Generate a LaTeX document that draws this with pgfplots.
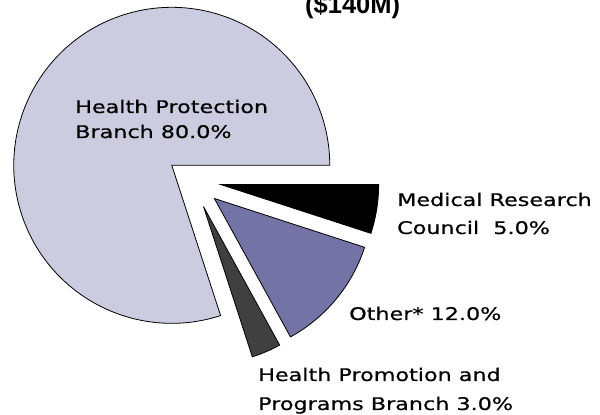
\documentclass[border=0pt]{standalone}
\usepackage{fontspec}
\setmainfont{DejaVu Sans}
\newfontfamily\lblfont{DejaVu Sans}[FakeBold=0.5]
\newfontfamily\titlefont{Liberation Sans}
\usepackage{graphicx}
\usepackage{pgfplots}
\usepackage{pgfplotstable}
\pgfplotsset{compat=1.18}
\definecolor{hpb}{RGB}{204,204,224}
\definecolor{other}{RGB}{115,115,166}
\definecolor{hppb}{RGB}{64,64,64}
\definecolor{mrc}{RGB}{0,0,0}

% slices clockwise from 3 o'clock; explode = offset of the slice (px)
\pgfplotstableread[col sep=comma]{
label,value,explode,fill
Medical Research Council,5,29,mrc
Other,12,29,other
Health Promotion and Programs Branch,3,29,hppb
Health Protection Branch,80,25,hpb
}\piedata

\def\pcx{192}\def\pcy{235}\def\prad{158}
\newcommand{\lbl}[1]{\lblfont\fontsize{17.4}{20}\selectfont\scalebox{1.28}[1]{#1}}

\begin{document}
\begin{tikzpicture}
\begin{axis}[
  at={(0,0)}, anchor=south west,
  x=1pt, y=1pt,
  xmin=0, xmax=600, ymin=0, ymax=415,
  hide axis, clip=false,
]
\pgfplotsextra{
  \pgfplotstablegetrowsof{\piedata}
  \pgfmathtruncatemacro\nrows{\pgfplotsretval-1}
  \xdef\curang{0}
  \foreach \i in {0,...,\nrows}{
    \pgfplotstablegetelem{\i}{value}\of\piedata \let\val\pgfplotsretval
    \pgfplotstablegetelem{\i}{explode}\of\piedata \let\ex\pgfplotsretval
    \pgfplotstablegetelem{\i}{fill}\of\piedata \let\col\pgfplotsretval
    \pgfmathsetmacro\aend{\curang-3.6*\val}
    \pgfmathsetmacro\amid{(\curang+\aend)/2}
    \pgfmathsetmacro\cx{\pcx+\ex*cos(\amid)}
    \pgfmathsetmacro\cy{\pcy+\ex*sin(\amid)}
    \filldraw[fill=\col, draw=black, line width=0.8pt, line join=miter]
      (axis cs:\cx,\cy) -- ++(\curang:\prad pt)
      arc[start angle=\curang, end angle=\aend, radius=\prad pt] -- cycle;
    \xdef\curang{\aend}
  }
}
\node[anchor=base west, inner sep=0] at (axis cs:75,302) {\lbl{Health Protection}};
\node[anchor=base west, inner sep=0] at (axis cs:75,277) {\lbl{Branch 80.0\%}};
\node[anchor=base west, inner sep=0] at (axis cs:397,209) {\lbl{Medical Research}};
\node[anchor=base west, inner sep=0] at (axis cs:397,181) {\lbl{Council\ \ 5.0\%}};
\node[anchor=base west, inner sep=0] at (axis cs:349,95) {\lbl{Other* 12.0\%}};
\node[anchor=base west, inner sep=0] at (axis cs:258,34) {\lbl{Health Promotion and}};
\node[anchor=base west, inner sep=0] at (axis cs:258,5) {\lbl{Programs Branch 3.0\%}};
\node[anchor=base west, inner sep=0] at (axis cs:305,401)
  {\titlefont\bfseries\fontsize{25.5}{28}\selectfont (\$140M)};
\end{axis}
\pgfresetboundingbox
\path[use as bounding box] (0,0) rectangle (600pt,415pt);
\end{tikzpicture}
\end{document}
